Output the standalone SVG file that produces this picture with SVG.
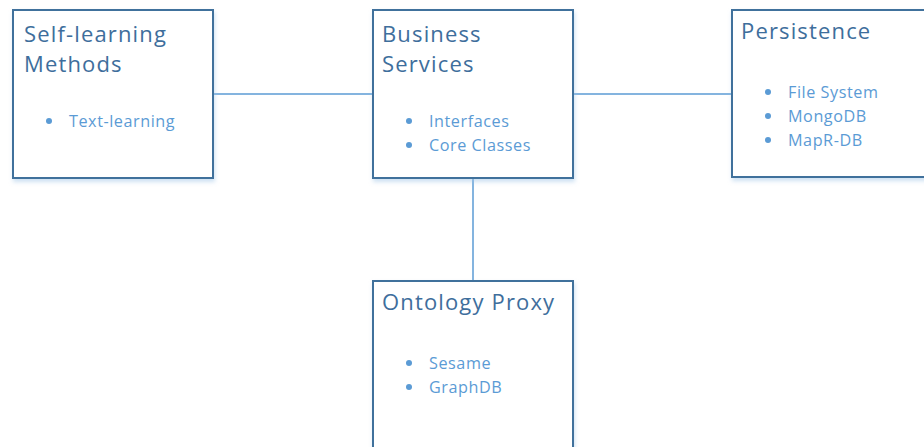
<svg xmlns="http://www.w3.org/2000/svg" width="924" height="447" viewBox="0 0 924 447">
<defs>
<filter id="sh" x="-5%" y="-5%" width="115%" height="115%">
<feDropShadow dx="1" dy="3" stdDeviation="2" flood-color="#9DC3E6" flood-opacity="0.5"/>
</filter>
</defs>
<style>
.box{fill:#fff;stroke:#41719C;stroke-width:2;filter:url(#sh)}
.t{font-family:"Open Sans","Liberation Sans",sans-serif;font-size:22px;letter-spacing:1.15px;fill:#3E6E9C}
.b{font-family:"Open Sans","Liberation Sans",sans-serif;font-size:16.2px;letter-spacing:0.55px;fill:#5B9BD5}
.d{fill:#5B9BD5}
.c{stroke:#5B9BD5;stroke-width:1.5;fill:none}
</style>
<rect width="924" height="447" fill="#fff"/>
<g id="connectors">
<line class="c" x1="213" y1="94" x2="373" y2="94"/>
<line class="c" x1="573" y1="94" x2="732" y2="94"/>
<line class="c" x1="473" y1="178" x2="473" y2="281"/>
</g>
<g id="self-learning">
<rect class="box" x="13" y="10" width="200" height="168"/>
<text class="t" x="24" y="42">Self-learning</text>
<text class="t" x="24" y="72">Methods</text>
<circle class="d" cx="49" cy="121" r="3"/>
<text class="b" x="69" y="127">Text-learning</text>
</g>
<g id="business">
<rect class="box" x="373" y="10" width="200" height="168"/>
<text class="t" x="382" y="42">Business</text>
<text class="t" x="382" y="72">Services</text>
<circle class="d" cx="409" cy="121" r="3"/>
<text class="b" x="429" y="127">Interfaces</text>
<circle class="d" cx="409" cy="145" r="3"/>
<text class="b" x="429" y="151">Core Classes</text>
</g>
<g id="persistence">
<rect class="box" x="732" y="10" width="210" height="167"/>
<text class="t" x="741" y="39">Persistence</text>
<circle class="d" cx="768" cy="92" r="3"/>
<text class="b" x="788" y="98">File System</text>
<circle class="d" cx="768" cy="116" r="3"/>
<text class="b" x="788" y="122">MongoDB</text>
<circle class="d" cx="768" cy="140" r="3"/>
<text class="b" x="788" y="146">MapR-DB</text>
</g>
<g id="ontology">
<rect class="box" x="373" y="281" width="200" height="180"/>
<text class="t" x="382" y="310">Ontology Proxy</text>
<circle class="d" cx="409" cy="363" r="3"/>
<text class="b" x="429" y="369">Sesame</text>
<circle class="d" cx="409" cy="387" r="3"/>
<text class="b" x="429" y="393">GraphDB</text>
</g>
</svg>
